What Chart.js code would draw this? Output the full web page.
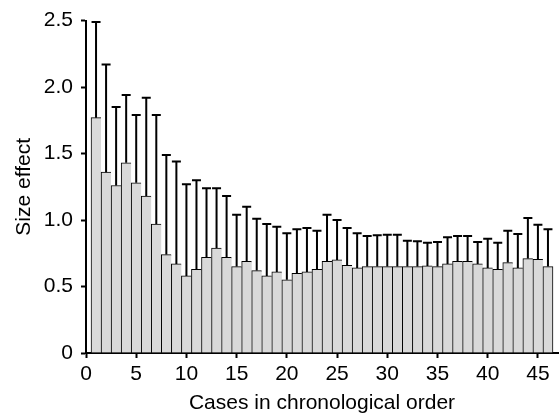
<!DOCTYPE html>
<html lang="en">
<head>
    <meta charset="UTF-8">
    <title>Size effect by case</title>
    <style>
        body, html {
            margin: 0;
            padding: 0;
            background: #ffffff;
        }

        .chart-box {
            width: 560px;
            height: 416px;
        }
    </style>
</head>
<body>
    <div class="chart-box">
        <canvas id="effect-chart"></canvas>
    </div>

    <script src="https://cdn.jsdelivr.net/npm/chart.js"></script>
    <script>
        // Values
        const caseNumbers = [1, 2, 3, 4, 5, 6, 7, 8, 9, 10,
            11, 12, 13, 14, 15, 16, 17, 18, 19, 20,
            21, 22, 23, 24, 25, 26, 27, 28, 29, 30,
            31, 32, 33, 34, 35, 36, 37, 38, 39, 40,
            41, 42, 43, 44, 45, 46];
        const sizeEffect = [1.77, 1.36, 1.26, 1.43, 1.28, 1.18, 0.97, 0.74, 0.67, 0.58,
            0.63, 0.72, 0.79, 0.72, 0.65, 0.69, 0.62, 0.58, 0.61, 0.55,
            0.60, 0.61, 0.63, 0.69, 0.70, 0.66, 0.64, 0.65, 0.65, 0.65,
            0.65, 0.65, 0.65, 0.655, 0.65, 0.67, 0.69, 0.69, 0.67, 0.64,
            0.63, 0.68, 0.64, 0.71, 0.705, 0.65];
        // top of each error bar (mean + error)
        const errorUpper = [2.49, 2.17, 1.85, 1.94, 1.79, 1.92, 1.79, 1.49, 1.44, 1.27,
            1.30, 1.24, 1.24, 1.18, 1.04, 1.10, 1.01, 0.97, 0.95, 0.90,
            0.93, 0.94, 0.92, 1.04, 1.00, 0.94, 0.90, 0.88, 0.885, 0.89,
            0.89, 0.845, 0.84, 0.83, 0.835, 0.87, 0.88, 0.88, 0.835, 0.86,
            0.83, 0.92, 0.895, 1.015, 0.965, 0.93];
        const xTicks = [0, 5, 10, 15, 20, 25, 30, 35, 40, 45];
        const yTicks = [0, 0.5, 1.0, 1.5, 2.0, 2.5];

        const font = { family: 'Liberation Sans, Arial, sans-serif', size: 21 };

        // Upward error bars with a cap
        const errorBars = {
            id: 'errorBars',
            afterDatasetsDraw(chart) {
                const ctx = chart.ctx;
                const x = chart.scales.x;
                const y = chart.scales.y;
                ctx.save();
                ctx.strokeStyle = '#000';
                ctx.lineWidth = 2;
                for (let i = 0; i < caseNumbers.length; i++) {
                    const px = x.getPixelForValue(caseNumbers[i]);
                    const y0 = y.getPixelForValue(sizeEffect[i]);
                    const y1 = y.getPixelForValue(errorUpper[i]);
                    ctx.beginPath();
                    ctx.moveTo(px, y0);
                    ctx.lineTo(px, y1);
                    ctx.moveTo(px - 4.5, y1);
                    ctx.lineTo(px + 4.5, y1);
                    ctx.stroke();
                }
                ctx.restore();
            }
        };

        const points = caseNumbers.map((c, i) => ({ x: c, y: sizeEffect[i] }));
        const last = caseNumbers.length - 1;

        new Chart(document.getElementById('effect-chart'), {
            type: 'bar',
            data: {
                datasets: [{
                    label: 'Size effect',
                    data: points,
                    backgroundColor: '#d9d9d9',
                    borderColor: '#000',
                    borderWidth: c => ({ top: 1, left: 1, bottom: 0, right: c.dataIndex === last ? 1 : 0 }),
                    borderSkipped: false,
                    barPercentage: 1,
                    categoryPercentage: 1
                }]
            },
            options: {
                responsive: true,
                maintainAspectRatio: false,
                animation: false,
                layout: { padding: { top: 14, right: 2, left: 0, bottom: 0 } },
                plugins: {
                    legend: { display: false },
                    tooltip: { enabled: false }
                },
                scales: {
                    x: {
                        type: 'linear',
                        min: 0,
                        max: 47,
                        offset: false,
                        grid: { offset: false, drawOnChartArea: false, drawTicks: true, tickLength: 5, tickColor: '#000', tickWidth: 2 },
                        border: { display: true, color: '#000', width: 2 },
                        afterBuildTicks: s => { s.ticks = xTicks.map(v => ({ value: v })); },
                        afterFit: s => { s.height = 63; },
                        ticks: { color: '#000', font: font, padding: 4, maxRotation: 0 },
                        title: { display: true, text: 'Cases in chronological order', color: '#000', font: font, padding: { top: 0, bottom: 0 } }
                    },
                    y: {
                        min: 0,
                        max: 2.5,
                        grid: { drawOnChartArea: false, drawTicks: true, tickLength: 5, tickColor: '#000', tickWidth: 2 },
                        border: { display: true, color: '#000', width: 2 },
                        afterBuildTicks: s => { s.ticks = yTicks.map(v => ({ value: v })); },
                        afterFit: s => { s.width = 86; },
                        ticks: {
                            color: '#000',
                            font: font,
                            padding: 8,
                            callback: v => v === 0 ? '0' : v.toFixed(1)
                        },
                        title: { display: true, text: 'Size effect', color: '#000', font: font, padding: { top: 12, bottom: 0 } }
                    }
                }
            },
            plugins: [errorBars]
        });
    </script>
</body>
</html>
